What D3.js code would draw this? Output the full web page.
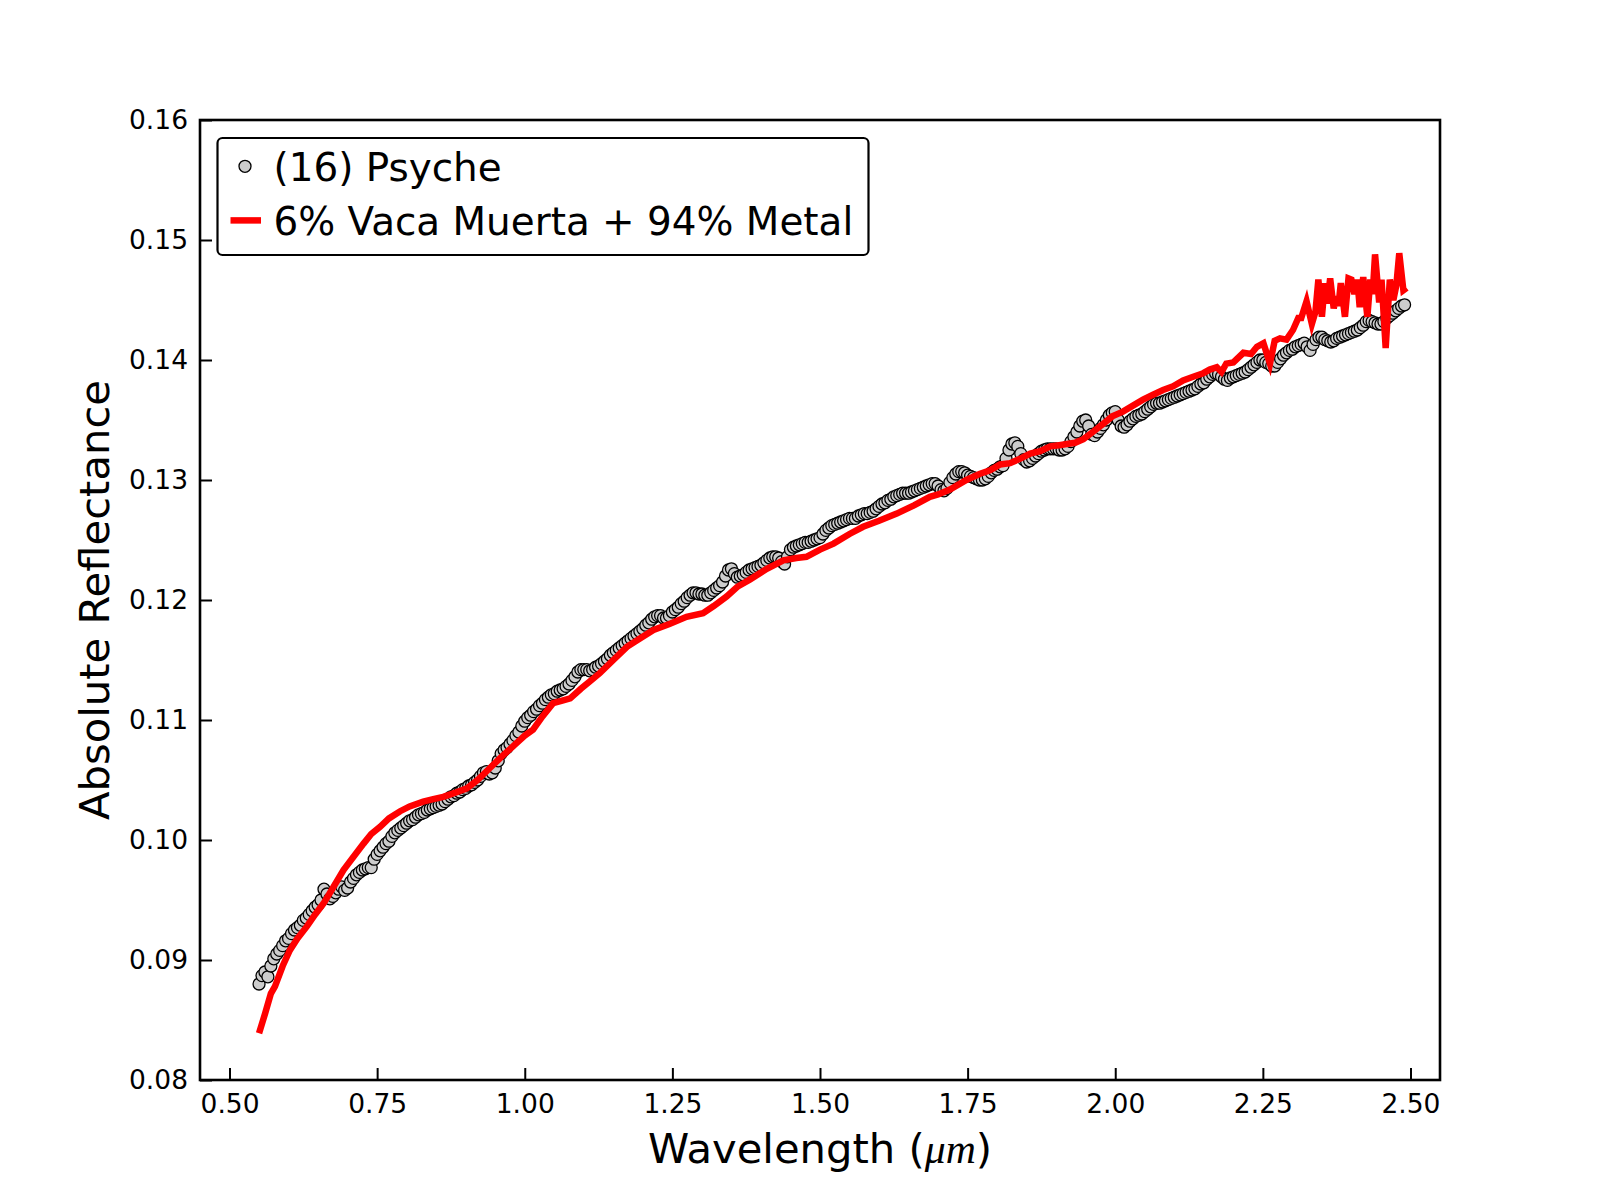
<!DOCTYPE html>
<html>
<head>
<meta charset="utf-8">
<script src="https://cdn.jsdelivr.net/npm/d3@7"></script>
<style>
  html, body { margin: 0; padding: 0; background: #fff; }
  svg { display: block; }
</style>
</head>
<body>
<svg id="chart" width="1600" height="1200"></svg>
<script>
// ---------------- DATA ----------------
// (16) Psyche spectrum: wavelengths start at 0.55 µm, step 0.005 µm (rows of 0.05 µm)
const psycheStart = 0.55;
const psycheStep = 0.005;
const psycheRefl = [
  0.0880, 0.0887, 0.0890, 0.0886, 0.0895, 0.0901, 0.0905, 0.0908, 0.0912, 0.0916,
  0.0918, 0.0922, 0.0925, 0.0927, 0.0929, 0.0933, 0.0935, 0.0938, 0.0941, 0.0944,
  0.0946, 0.0950, 0.0959, 0.0955, 0.0951, 0.0953, 0.0956, 0.0959, 0.0961, 0.0958,
  0.0960, 0.0965, 0.0968, 0.0971, 0.0973, 0.0975, 0.0976, 0.0977, 0.0977, 0.0984,
  0.0988, 0.0991, 0.0994, 0.0997, 0.0999, 0.1003, 0.1006, 0.1008, 0.1010, 0.1012,
  0.1014, 0.1016, 0.1017, 0.1019, 0.1021, 0.1022, 0.1023, 0.1025, 0.1026, 0.1027,
  0.1028, 0.1029, 0.1030, 0.1032, 0.1034, 0.1036, 0.1037, 0.1039, 0.1040, 0.1042,
  0.1043, 0.1045, 0.1046, 0.1048, 0.1050, 0.1053, 0.1056, 0.1057, 0.1055, 0.1056,
  0.1060, 0.1066, 0.1072, 0.1075, 0.1077, 0.1080, 0.1083, 0.1087, 0.1090, 0.1095,
  0.1099, 0.1102, 0.1104, 0.1107, 0.1109, 0.1112, 0.1114, 0.1117, 0.1119, 0.1121,
  0.1122, 0.1124, 0.1125, 0.1126, 0.1128, 0.1130, 0.1133, 0.1136, 0.1140, 0.1142,
  0.1142, 0.1142, 0.1141, 0.1142, 0.1144, 0.1145, 0.1147, 0.1149, 0.1151, 0.1154,
  0.1156, 0.1158, 0.1160, 0.1162, 0.1164, 0.1166, 0.1168, 0.1170, 0.1172, 0.1174,
  0.1176, 0.1179, 0.1181, 0.1184, 0.1186, 0.1187, 0.1187, 0.1185, 0.1185, 0.1187,
  0.1190, 0.1192, 0.1194, 0.1197, 0.1199, 0.1202, 0.1204, 0.1206, 0.1206, 0.1205,
  0.1205, 0.1204, 0.1204, 0.1206, 0.1208, 0.1210, 0.1212, 0.1215, 0.1220, 0.1225,
  0.1226, 0.1222, 0.1219, 0.1220, 0.1221, 0.1223, 0.1225, 0.1226, 0.1227, 0.1228,
  0.1229, 0.1231, 0.1233, 0.1235, 0.1236, 0.1236, 0.1235, 0.1232, 0.1230, 0.1236,
  0.1242, 0.1244, 0.1245, 0.1246, 0.1247, 0.1248, 0.1248, 0.1249, 0.1250, 0.1251,
  0.1252, 0.1255, 0.1258, 0.1260, 0.1262, 0.1263, 0.1264, 0.1265, 0.1266, 0.1267,
  0.1268, 0.1268, 0.1268, 0.1270, 0.1271, 0.1272, 0.1272, 0.1273, 0.1274, 0.1276,
  0.1278, 0.1280, 0.1281, 0.1283, 0.1284, 0.1286, 0.1287, 0.1288, 0.1289, 0.1289,
  0.1289, 0.1290, 0.1291, 0.1292, 0.1293, 0.1294, 0.1295, 0.1296, 0.1297, 0.1297,
  0.1295, 0.1292, 0.1291, 0.1293, 0.1298, 0.1302, 0.1305, 0.1307, 0.1307, 0.1306,
  0.1304, 0.1303, 0.1302, 0.1301, 0.1300, 0.1300, 0.1301, 0.1303, 0.1306, 0.1308,
  0.1309, 0.1311, 0.1312, 0.1318, 0.1325, 0.1330, 0.1331, 0.1328, 0.1322, 0.1317,
  0.1315, 0.1316, 0.1318, 0.1320, 0.1322, 0.1324, 0.1325, 0.1326, 0.1326, 0.1326,
  0.1326, 0.1325, 0.1325, 0.1326, 0.1328, 0.1332, 0.1336, 0.1340, 0.1345, 0.1349,
  0.1350, 0.1345, 0.1338, 0.1337, 0.1340, 0.1343, 0.1346, 0.1350, 0.1354, 0.1356,
  0.1357, 0.1350, 0.1345, 0.1344, 0.1346, 0.1349, 0.1351, 0.1353, 0.1354, 0.1355,
  0.1357, 0.1359, 0.1361, 0.1363, 0.1364, 0.1364, 0.1365, 0.1366, 0.1367, 0.1368,
  0.1369, 0.1370, 0.1371, 0.1372, 0.1373, 0.1374, 0.1375, 0.1376, 0.1378, 0.1380,
  0.1381, 0.1384, 0.1386, 0.1388, 0.1389, 0.1388, 0.1386, 0.1384, 0.1383, 0.1385,
  0.1386, 0.1387, 0.1388, 0.1389, 0.1390, 0.1392, 0.1394, 0.1396, 0.1398, 0.1400,
  0.1400, 0.1398, 0.1397, 0.1395, 0.1395, 0.1398, 0.1401, 0.1404, 0.1406, 0.1408,
  0.1409, 0.1411, 0.1412, 0.1413, 0.1414, 0.1411, 0.1408, 0.1413, 0.1417, 0.1419,
  0.1419, 0.1417, 0.1416, 0.1415, 0.1416, 0.1418, 0.1419, 0.1420, 0.1421, 0.1422,
  0.1423, 0.1424, 0.1425, 0.1427, 0.1429, 0.1432, 0.1433, 0.1432, 0.1431, 0.1430,
  0.1430, 0.1432, 0.1435, 0.1437, 0.1439, 0.1441, 0.1443, 0.1445, 0.1446
];

// Model: 6% Vaca Muerta + 94% Metal
const modelWave = [
  0.550, 0.560, 0.570, 0.577, 0.590, 0.602, 0.615, 0.631, 0.645, 0.659,
  0.675, 0.693, 0.710, 0.727, 0.740, 0.755, 0.770, 0.789, 0.805, 0.828,
  0.845, 0.862, 0.880, 0.902, 0.920, 0.941, 0.960, 0.980, 1.000, 1.014,
  1.030, 1.048, 1.062, 1.077, 1.095, 1.110, 1.127, 1.150, 1.173, 1.195,
  1.218, 1.245, 1.274, 1.302, 1.320, 1.342, 1.360, 1.381, 1.410, 1.438,
  1.460, 1.477, 1.500, 1.523, 1.550, 1.573, 1.600, 1.630, 1.660, 1.686,
  1.700, 1.720, 1.748, 1.770, 1.788, 1.805, 1.822, 1.840, 1.856, 1.873,
  1.890, 1.905, 1.918, 1.932, 1.946, 1.962, 1.980, 1.995, 2.013, 2.030,
  2.047, 2.064, 2.081, 2.098, 2.115, 2.132, 2.149, 2.160, 2.172, 2.180,
  2.188, 2.200, 2.217, 2.230, 2.240, 2.251, 2.262, 2.270, 2.279, 2.290,
  2.301, 2.310, 2.315, 2.324, 2.333, 2.339, 2.344, 2.350, 2.355, 2.359,
  2.364, 2.370, 2.374, 2.378, 2.382, 2.389, 2.395, 2.400, 2.405, 2.410,
  2.414, 2.420, 2.427, 2.432, 2.436, 2.440, 2.447, 2.451, 2.458, 2.465,
  2.471, 2.476, 2.481, 2.488, 2.4935
];
const modelRefl = [
  0.0839, 0.0855, 0.0872, 0.0878, 0.0895, 0.0908, 0.0918, 0.0928, 0.0938, 0.0947,
  0.0960, 0.0975, 0.0986, 0.0997, 0.1005, 0.1011, 0.1018, 0.1024, 0.1028, 0.1032,
  0.1034, 0.1036, 0.1039, 0.1043, 0.1050, 0.1060, 0.1069, 0.1078, 0.1087, 0.1092,
  0.1103, 0.1114, 0.1116, 0.1118, 0.1126, 0.1132, 0.1139, 0.1150, 0.1161, 0.1168,
  0.1175, 0.1180, 0.1186, 0.1189, 0.1195, 0.1203, 0.1211, 0.1217, 0.1226, 0.1233,
  0.1235, 0.1236, 0.1242, 0.1247, 0.1255, 0.1261, 0.1266, 0.1272, 0.1279, 0.1286,
  0.1288, 0.1292, 0.1300, 0.1305, 0.1308, 0.1313, 0.1314, 0.1318, 0.1322, 0.1324,
  0.1328, 0.1329, 0.1330, 0.1331, 0.1334, 0.1340, 0.1347, 0.1353, 0.1357, 0.1362,
  0.1367, 0.1371, 0.1375, 0.1378, 0.1383, 0.1386, 0.1389, 0.1392, 0.1394, 0.1390,
  0.1397, 0.1398, 0.1406, 0.1405, 0.1411, 0.1414, 0.1397, 0.1416, 0.1418, 0.1417,
  0.1425, 0.1435, 0.1435, 0.1449, 0.1430, 0.1440, 0.1467, 0.1436, 0.1464, 0.1447,
  0.1468, 0.1443, 0.1453, 0.1445, 0.1464, 0.1436, 0.1468, 0.1467, 0.1455, 0.1467,
  0.1444, 0.1469, 0.1436, 0.1467, 0.1455, 0.1488, 0.1448, 0.1467, 0.1410, 0.1467,
  0.1450, 0.1462, 0.1489, 0.1458, 0.1460
];

const xTicks = [0.50, 0.75, 1.00, 1.25, 1.50, 1.75, 2.00, 2.25, 2.50];
const yTicks = [0.08, 0.09, 0.10, 0.11, 0.12, 0.13, 0.14, 0.15, 0.16];
const legendLabels = ["(16) Psyche", "6% Vaca Muerta + 94% Metal"];

// ---------------- CHART ----------------
(function () {
const svg = d3.select("#chart");
const W = 1600, H = 1200;
const pL = 200, pR = 1440, pT = 120, pB = 1080;
const FONT = "'DejaVu Sans', sans-serif";
const R = 6.0;

svg.append("rect").attr("width", W).attr("height", H).attr("fill", "#fff");

const x = d3.scaleLinear().domain([0.45, 2.55]).range([pL, pR]);
const y = d3.scaleLinear().domain([0.08, 0.16]).range([pB, pT]);

const psyche = psycheRefl.map((v, i) => ({ w: psycheStart + i * psycheStep, v }));
const model = modelWave.map((w, i) => ({ w, v: modelRefl[i] }));

// Psyche points
svg.append("g")
  .selectAll("circle")
  .data(psyche)
  .join("circle")
  .attr("cx", d => x(d.w))
  .attr("cy", d => y(d.v))
  .attr("r", R)
  .attr("fill", "#cccccc")
  .attr("stroke", "#000")
  .attr("stroke-width", 1.3);

// Model line
const line = d3.line().x(d => x(d.w)).y(d => y(d.v));
svg.append("path")
  .datum(model)
  .attr("d", line)
  .attr("fill", "none")
  .attr("stroke", "#ff0000")
  .attr("stroke-width", 6.5)
  .attr("stroke-linejoin", "miter")
  .attr("stroke-miterlimit", 4);

// Axes
const fmt = d3.format(".2f");
const xAxis = svg.append("g")
  .attr("transform", `translate(0,${pB})`)
  .call(d3.axisBottom(x).tickValues(xTicks).tickFormat(fmt)
    .tickSizeInner(-12).tickSizeOuter(0).tickPadding(14));
const yAxis = svg.append("g")
  .attr("transform", `translate(${pL},0)`)
  .call(d3.axisLeft(y).tickValues(yTicks).tickFormat(fmt)
    .tickSizeInner(-12).tickSizeOuter(0).tickPadding(12));

[xAxis, yAxis].forEach(g => {
  g.select(".domain").remove();
  g.selectAll(".tick line").attr("stroke", "#000").attr("stroke-width", 2);
  g.selectAll(".tick text")
    .attr("fill", "#000")
    .style("font-family", FONT)
    .style("font-size", "26.5px");
});

// Frame
svg.append("rect")
  .attr("x", pL).attr("y", pT)
  .attr("width", pR - pL).attr("height", pB - pT)
  .attr("fill", "none").attr("stroke", "#000").attr("stroke-width", 2.6);

// Axis labels
const xl = svg.append("text")
  .attr("x", (pL + pR) / 2).attr("y", 1163)
  .attr("text-anchor", "middle")
  .style("font-family", FONT).style("font-size", "41.7px").attr("fill", "#000");
xl.append("tspan").text("Wavelength (");
xl.append("tspan").text("μm")
  .style("font-family", "'Liberation Serif', 'DejaVu Serif', serif")
  .style("font-style", "italic");
xl.append("tspan").text(")");

svg.append("text")
  .attr("transform", `translate(109,${(pT + pB) / 2}) rotate(-90)`)
  .attr("text-anchor", "middle")
  .style("font-family", FONT).style("font-size", "41.7px").attr("fill", "#000")
  .text("Absolute Reflectance");

// Legend
const lg = svg.append("g");
lg.append("rect")
  .attr("x", 217.5).attr("y", 138).attr("width", 651).attr("height", 117)
  .attr("rx", 5).attr("ry", 5)
  .attr("fill", "#fff").attr("stroke", "#000").attr("stroke-width", 2.2);
lg.append("circle")
  .attr("cx", 245).attr("cy", 166.3).attr("r", R)
  .attr("fill", "#cccccc").attr("stroke", "#000").attr("stroke-width", 1.3);
lg.append("line")
  .attr("x1", 230.5).attr("x2", 261).attr("y1", 220.4).attr("y2", 220.4)
  .attr("stroke", "#ff0000").attr("stroke-width", 6.5);
lg.selectAll("text.lbl")
  .data(legendLabels)
  .join("text")
  .attr("class", "lbl")
  .attr("x", 273.5)
  .attr("y", (d, i) => [180.5, 234.7][i])
  .style("font-family", FONT).style("font-size", "38.9px").attr("fill", "#000")
  .text(d => d);
})();
</script>
</body>
</html>
